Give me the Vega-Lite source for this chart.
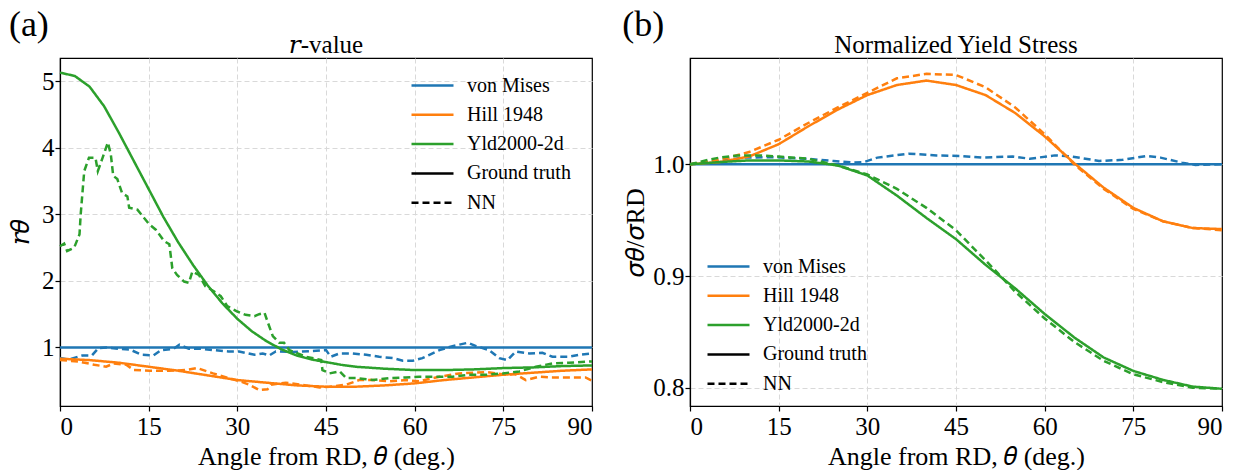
{
  "$schema": "https://vega.github.io/schema/vega-lite/v6.json",
  "background": "white",
  "padding": {"left": 6, "top": 7, "right": 0, "bottom": 0},
  "config": {
    "font": "Liberation Serif, DejaVu Serif",
    "view": {"stroke": "black", "strokeWidth": 1.2},
    "axis": {
      "labelFont": "Liberation Serif, DejaVu Serif",
      "labelFontSize": 25,
      "labelColor": "black",
      "labelPadding": 3,
      "titleFont": "Liberation Serif, DejaVu Serif",
      "titleFontSize": 26,
      "titleFontWeight": "normal",
      "titleColor": "black",
      "domainColor": "black",
      "domainWidth": 1.2,
      "tickColor": "black",
      "tickSize": 5,
      "tickWidth": 1.2,
      "gridColor": "#d9d9d9",
      "gridDash": [5, 3],
      "gridWidth": 1
    },
    "axisX": {"titlePadding": 4},
    "axisY": {"titlePadding": 8, "labelPadding": 1},
    "title": {"font": "Liberation Serif, DejaVu Serif", "fontWeight": "normal", "color": "black"},
    "legend": {
      "title": null,
      "symbolType": "stroke",
      "symbolSize": 1764,
      "symbolStrokeWidth": 2.5,
      "labelFont": "Liberation Serif, DejaVu Serif",
      "labelFontSize": 20,
      "labelColor": "black",
      "labelOffset": 12,
      "clipHeight": 29,
      "rowPadding": 0.3,
      "padding": 0
    }
  },
  "spacing": 24,
  "resolve": {
    "scale": {"color": "independent", "strokeDash": "independent"},
    "legend": {"color": "independent"}
  },
  "hconcat": [
    {
      "title": {"text": "(a)", "anchor": "start", "fontSize": 36, "dx": 2, "offset": -12},
      "vconcat": [
        {
          "title": {"text": "𝑟-value", "fontSize": 25, "offset": 0},
          "view": {"stroke": "black", "strokeWidth": 1.2},
          "width": 532,
          "height": 348,
          "data": {
            "values": [
              {"theta": 0, "value": 1.0, "model": "von Mises", "kind": "Ground truth"},
              {"theta": 90, "value": 1.0, "model": "von Mises", "kind": "Ground truth"},

              {"theta": 0, "value": 0.84, "model": "von Mises", "kind": "NN"},
              {"theta": 1.5, "value": 0.82, "model": "von Mises", "kind": "NN"},
              {"theta": 3.8, "value": 0.88, "model": "von Mises", "kind": "NN"},
              {"theta": 5.4, "value": 0.88, "model": "von Mises", "kind": "NN"},
              {"theta": 6.5, "value": 0.99, "model": "von Mises", "kind": "NN"},
              {"theta": 7.8, "value": 1.0, "model": "von Mises", "kind": "NN"},
              {"theta": 9.8, "value": 0.98, "model": "von Mises", "kind": "NN"},
              {"theta": 11.8, "value": 0.97, "model": "von Mises", "kind": "NN"},
              {"theta": 13.8, "value": 0.89, "model": "von Mises", "kind": "NN"},
              {"theta": 15.8, "value": 0.88, "model": "von Mises", "kind": "NN"},
              {"theta": 17.1, "value": 0.96, "model": "von Mises", "kind": "NN"},
              {"theta": 19.2, "value": 0.98, "model": "von Mises", "kind": "NN"},
              {"theta": 20.2, "value": 1.04, "model": "von Mises", "kind": "NN"},
              {"theta": 21.8, "value": 0.98, "model": "von Mises", "kind": "NN"},
              {"theta": 23.8, "value": 0.98, "model": "von Mises", "kind": "NN"},
              {"theta": 25.9, "value": 0.96, "model": "von Mises", "kind": "NN"},
              {"theta": 28.5, "value": 0.94, "model": "von Mises", "kind": "NN"},
              {"theta": 30.3, "value": 0.94, "model": "von Mises", "kind": "NN"},
              {"theta": 32.9, "value": 0.89, "model": "von Mises", "kind": "NN"},
              {"theta": 34.3, "value": 0.91, "model": "von Mises", "kind": "NN"},
              {"theta": 35.4, "value": 0.88, "model": "von Mises", "kind": "NN"},
              {"theta": 36.5, "value": 0.94, "model": "von Mises", "kind": "NN"},
              {"theta": 39.4, "value": 0.93, "model": "von Mises", "kind": "NN"},
              {"theta": 43.3, "value": 0.95, "model": "von Mises", "kind": "NN"},
              {"theta": 45.0, "value": 0.96, "model": "von Mises", "kind": "NN"},
              {"theta": 45.8, "value": 0.86, "model": "von Mises", "kind": "NN"},
              {"theta": 47.3, "value": 0.91, "model": "von Mises", "kind": "NN"},
              {"theta": 49.5, "value": 0.91, "model": "von Mises", "kind": "NN"},
              {"theta": 51.8, "value": 0.89, "model": "von Mises", "kind": "NN"},
              {"theta": 54.0, "value": 0.86, "model": "von Mises", "kind": "NN"},
              {"theta": 56.3, "value": 0.84, "model": "von Mises", "kind": "NN"},
              {"theta": 58.0, "value": 0.8, "model": "von Mises", "kind": "NN"},
              {"theta": 59.7, "value": 0.8, "model": "von Mises", "kind": "NN"},
              {"theta": 61.3, "value": 0.84, "model": "von Mises", "kind": "NN"},
              {"theta": 62.5, "value": 0.89, "model": "von Mises", "kind": "NN"},
              {"theta": 64.2, "value": 0.96, "model": "von Mises", "kind": "NN"},
              {"theta": 66.4, "value": 1.02, "model": "von Mises", "kind": "NN"},
              {"theta": 69.0, "value": 1.07, "model": "von Mises", "kind": "NN"},
              {"theta": 70.4, "value": 1.02, "model": "von Mises", "kind": "NN"},
              {"theta": 72.6, "value": 0.96, "model": "von Mises", "kind": "NN"},
              {"theta": 74.3, "value": 0.84, "model": "von Mises", "kind": "NN"},
              {"theta": 75.7, "value": 0.81, "model": "von Mises", "kind": "NN"},
              {"theta": 77.1, "value": 0.94, "model": "von Mises", "kind": "NN"},
              {"theta": 79.4, "value": 0.91, "model": "von Mises", "kind": "NN"},
              {"theta": 81.6, "value": 0.92, "model": "von Mises", "kind": "NN"},
              {"theta": 83.3, "value": 0.86, "model": "von Mises", "kind": "NN"},
              {"theta": 86.1, "value": 0.86, "model": "von Mises", "kind": "NN"},
              {"theta": 87.8, "value": 0.89, "model": "von Mises", "kind": "NN"},
              {"theta": 90, "value": 0.91, "model": "von Mises", "kind": "NN"},

              {"theta": 0, "value": 0.83, "model": "Hill 1948", "kind": "Ground truth"},
              {"theta": 5, "value": 0.81, "model": "Hill 1948", "kind": "Ground truth"},
              {"theta": 10, "value": 0.77, "model": "Hill 1948", "kind": "Ground truth"},
              {"theta": 15, "value": 0.71, "model": "Hill 1948", "kind": "Ground truth"},
              {"theta": 20, "value": 0.65, "model": "Hill 1948", "kind": "Ground truth"},
              {"theta": 25, "value": 0.58, "model": "Hill 1948", "kind": "Ground truth"},
              {"theta": 30, "value": 0.51, "model": "Hill 1948", "kind": "Ground truth"},
              {"theta": 35, "value": 0.47, "model": "Hill 1948", "kind": "Ground truth"},
              {"theta": 40, "value": 0.43, "model": "Hill 1948", "kind": "Ground truth"},
              {"theta": 45, "value": 0.41, "model": "Hill 1948", "kind": "Ground truth"},
              {"theta": 50, "value": 0.41, "model": "Hill 1948", "kind": "Ground truth"},
              {"theta": 55, "value": 0.43, "model": "Hill 1948", "kind": "Ground truth"},
              {"theta": 60, "value": 0.46, "model": "Hill 1948", "kind": "Ground truth"},
              {"theta": 65, "value": 0.51, "model": "Hill 1948", "kind": "Ground truth"},
              {"theta": 70, "value": 0.55, "model": "Hill 1948", "kind": "Ground truth"},
              {"theta": 75, "value": 0.59, "model": "Hill 1948", "kind": "Ground truth"},
              {"theta": 80, "value": 0.62, "model": "Hill 1948", "kind": "Ground truth"},
              {"theta": 85, "value": 0.65, "model": "Hill 1948", "kind": "Ground truth"},
              {"theta": 90, "value": 0.67, "model": "Hill 1948", "kind": "Ground truth"},

              {"theta": 0, "value": 0.81, "model": "Hill 1948", "kind": "NN"},
              {"theta": 3.1, "value": 0.79, "model": "Hill 1948", "kind": "NN"},
              {"theta": 5.8, "value": 0.74, "model": "Hill 1948", "kind": "NN"},
              {"theta": 7.8, "value": 0.71, "model": "Hill 1948", "kind": "NN"},
              {"theta": 9.1, "value": 0.76, "model": "Hill 1948", "kind": "NN"},
              {"theta": 11.2, "value": 0.74, "model": "Hill 1948", "kind": "NN"},
              {"theta": 12.5, "value": 0.66, "model": "Hill 1948", "kind": "NN"},
              {"theta": 15.2, "value": 0.65, "model": "Hill 1948", "kind": "NN"},
              {"theta": 18.5, "value": 0.65, "model": "Hill 1948", "kind": "NN"},
              {"theta": 21.2, "value": 0.66, "model": "Hill 1948", "kind": "NN"},
              {"theta": 23.2, "value": 0.69, "model": "Hill 1948", "kind": "NN"},
              {"theta": 25.9, "value": 0.61, "model": "Hill 1948", "kind": "NN"},
              {"theta": 28.5, "value": 0.54, "model": "Hill 1948", "kind": "NN"},
              {"theta": 30.5, "value": 0.49, "model": "Hill 1948", "kind": "NN"},
              {"theta": 32.0, "value": 0.44, "model": "Hill 1948", "kind": "NN"},
              {"theta": 33.7, "value": 0.36, "model": "Hill 1948", "kind": "NN"},
              {"theta": 35.1, "value": 0.37, "model": "Hill 1948", "kind": "NN"},
              {"theta": 35.7, "value": 0.44, "model": "Hill 1948", "kind": "NN"},
              {"theta": 38.2, "value": 0.47, "model": "Hill 1948", "kind": "NN"},
              {"theta": 41.6, "value": 0.43, "model": "Hill 1948", "kind": "NN"},
              {"theta": 43.9, "value": 0.4, "model": "Hill 1948", "kind": "NN"},
              {"theta": 45.6, "value": 0.41, "model": "Hill 1948", "kind": "NN"},
              {"theta": 48.4, "value": 0.44, "model": "Hill 1948", "kind": "NN"},
              {"theta": 50.6, "value": 0.51, "model": "Hill 1948", "kind": "NN"},
              {"theta": 52.9, "value": 0.51, "model": "Hill 1948", "kind": "NN"},
              {"theta": 55.7, "value": 0.49, "model": "Hill 1948", "kind": "NN"},
              {"theta": 58.5, "value": 0.51, "model": "Hill 1948", "kind": "NN"},
              {"theta": 60.8, "value": 0.49, "model": "Hill 1948", "kind": "NN"},
              {"theta": 62.5, "value": 0.53, "model": "Hill 1948", "kind": "NN"},
              {"theta": 64.2, "value": 0.56, "model": "Hill 1948", "kind": "NN"},
              {"theta": 67.5, "value": 0.61, "model": "Hill 1948", "kind": "NN"},
              {"theta": 72.1, "value": 0.63, "model": "Hill 1948", "kind": "NN"},
              {"theta": 75.4, "value": 0.59, "model": "Hill 1948", "kind": "NN"},
              {"theta": 77.0, "value": 0.6, "model": "Hill 1948", "kind": "NN"},
              {"theta": 78.8, "value": 0.51, "model": "Hill 1948", "kind": "NN"},
              {"theta": 81.0, "value": 0.56, "model": "Hill 1948", "kind": "NN"},
              {"theta": 83.3, "value": 0.55, "model": "Hill 1948", "kind": "NN"},
              {"theta": 86.1, "value": 0.55, "model": "Hill 1948", "kind": "NN"},
              {"theta": 88.9, "value": 0.55, "model": "Hill 1948", "kind": "NN"},
              {"theta": 90, "value": 0.5, "model": "Hill 1948", "kind": "NN"},

              {"theta": 0, "value": 5.13, "model": "Yld2000-2d", "kind": "Ground truth"},
              {"theta": 2.5, "value": 5.08, "model": "Yld2000-2d", "kind": "Ground truth"},
              {"theta": 5, "value": 4.92, "model": "Yld2000-2d", "kind": "Ground truth"},
              {"theta": 7.5, "value": 4.62, "model": "Yld2000-2d", "kind": "Ground truth"},
              {"theta": 10, "value": 4.22, "model": "Yld2000-2d", "kind": "Ground truth"},
              {"theta": 12.5, "value": 3.8, "model": "Yld2000-2d", "kind": "Ground truth"},
              {"theta": 15, "value": 3.38, "model": "Yld2000-2d", "kind": "Ground truth"},
              {"theta": 17.5, "value": 2.96, "model": "Yld2000-2d", "kind": "Ground truth"},
              {"theta": 20, "value": 2.58, "model": "Yld2000-2d", "kind": "Ground truth"},
              {"theta": 22.5, "value": 2.24, "model": "Yld2000-2d", "kind": "Ground truth"},
              {"theta": 25, "value": 1.93, "model": "Yld2000-2d", "kind": "Ground truth"},
              {"theta": 27.5, "value": 1.66, "model": "Yld2000-2d", "kind": "Ground truth"},
              {"theta": 30, "value": 1.43, "model": "Yld2000-2d", "kind": "Ground truth"},
              {"theta": 32.5, "value": 1.24, "model": "Yld2000-2d", "kind": "Ground truth"},
              {"theta": 35, "value": 1.09, "model": "Yld2000-2d", "kind": "Ground truth"},
              {"theta": 37.5, "value": 0.97, "model": "Yld2000-2d", "kind": "Ground truth"},
              {"theta": 40, "value": 0.88, "model": "Yld2000-2d", "kind": "Ground truth"},
              {"theta": 42.5, "value": 0.82, "model": "Yld2000-2d", "kind": "Ground truth"},
              {"theta": 45, "value": 0.78, "model": "Yld2000-2d", "kind": "Ground truth"},
              {"theta": 47.5, "value": 0.74, "model": "Yld2000-2d", "kind": "Ground truth"},
              {"theta": 50, "value": 0.71, "model": "Yld2000-2d", "kind": "Ground truth"},
              {"theta": 55, "value": 0.68, "model": "Yld2000-2d", "kind": "Ground truth"},
              {"theta": 60, "value": 0.66, "model": "Yld2000-2d", "kind": "Ground truth"},
              {"theta": 65, "value": 0.66, "model": "Yld2000-2d", "kind": "Ground truth"},
              {"theta": 70, "value": 0.67, "model": "Yld2000-2d", "kind": "Ground truth"},
              {"theta": 75, "value": 0.69, "model": "Yld2000-2d", "kind": "Ground truth"},
              {"theta": 80, "value": 0.7, "model": "Yld2000-2d", "kind": "Ground truth"},
              {"theta": 85, "value": 0.72, "model": "Yld2000-2d", "kind": "Ground truth"},
              {"theta": 90, "value": 0.73, "model": "Yld2000-2d", "kind": "Ground truth"},

              {"theta": 0, "value": 2.52, "model": "Yld2000-2d", "kind": "NN"},
              {"theta": 0.7, "value": 2.56, "model": "Yld2000-2d", "kind": "NN"},
              {"theta": 1.2, "value": 2.45, "model": "Yld2000-2d", "kind": "NN"},
              {"theta": 2.4, "value": 2.5, "model": "Yld2000-2d", "kind": "NN"},
              {"theta": 3.3, "value": 2.7, "model": "Yld2000-2d", "kind": "NN"},
              {"theta": 3.5, "value": 3.0, "model": "Yld2000-2d", "kind": "NN"},
              {"theta": 4.1, "value": 3.65, "model": "Yld2000-2d", "kind": "NN"},
              {"theta": 4.9, "value": 3.85, "model": "Yld2000-2d", "kind": "NN"},
              {"theta": 6.0, "value": 3.85, "model": "Yld2000-2d", "kind": "NN"},
              {"theta": 6.4, "value": 3.65, "model": "Yld2000-2d", "kind": "NN"},
              {"theta": 7.2, "value": 3.85, "model": "Yld2000-2d", "kind": "NN"},
              {"theta": 8.1, "value": 4.08, "model": "Yld2000-2d", "kind": "NN"},
              {"theta": 8.6, "value": 3.9, "model": "Yld2000-2d", "kind": "NN"},
              {"theta": 9.0, "value": 3.58, "model": "Yld2000-2d", "kind": "NN"},
              {"theta": 9.7, "value": 3.53, "model": "Yld2000-2d", "kind": "NN"},
              {"theta": 10.5, "value": 3.32, "model": "Yld2000-2d", "kind": "NN"},
              {"theta": 11.4, "value": 3.27, "model": "Yld2000-2d", "kind": "NN"},
              {"theta": 11.7, "value": 3.1, "model": "Yld2000-2d", "kind": "NN"},
              {"theta": 13.1, "value": 3.07, "model": "Yld2000-2d", "kind": "NN"},
              {"theta": 14.2, "value": 2.95, "model": "Yld2000-2d", "kind": "NN"},
              {"theta": 15.1, "value": 2.85, "model": "Yld2000-2d", "kind": "NN"},
              {"theta": 16.2, "value": 2.77, "model": "Yld2000-2d", "kind": "NN"},
              {"theta": 17.6, "value": 2.6, "model": "Yld2000-2d", "kind": "NN"},
              {"theta": 18.5, "value": 2.55, "model": "Yld2000-2d", "kind": "NN"},
              {"theta": 19.0, "value": 2.19, "model": "Yld2000-2d", "kind": "NN"},
              {"theta": 19.8, "value": 2.09, "model": "Yld2000-2d", "kind": "NN"},
              {"theta": 21.0, "value": 1.99, "model": "Yld2000-2d", "kind": "NN"},
              {"theta": 21.8, "value": 1.97, "model": "Yld2000-2d", "kind": "NN"},
              {"theta": 22.4, "value": 2.14, "model": "Yld2000-2d", "kind": "NN"},
              {"theta": 23.5, "value": 2.09, "model": "Yld2000-2d", "kind": "NN"},
              {"theta": 24.6, "value": 1.92, "model": "Yld2000-2d", "kind": "NN"},
              {"theta": 26.1, "value": 1.84, "model": "Yld2000-2d", "kind": "NN"},
              {"theta": 27.2, "value": 1.77, "model": "Yld2000-2d", "kind": "NN"},
              {"theta": 28.3, "value": 1.62, "model": "Yld2000-2d", "kind": "NN"},
              {"theta": 30.0, "value": 1.54, "model": "Yld2000-2d", "kind": "NN"},
              {"theta": 31.4, "value": 1.49, "model": "Yld2000-2d", "kind": "NN"},
              {"theta": 32.9, "value": 1.47, "model": "Yld2000-2d", "kind": "NN"},
              {"theta": 33.7, "value": 1.5, "model": "Yld2000-2d", "kind": "NN"},
              {"theta": 34.6, "value": 1.52, "model": "Yld2000-2d", "kind": "NN"},
              {"theta": 35.1, "value": 1.39, "model": "Yld2000-2d", "kind": "NN"},
              {"theta": 36.0, "value": 1.17, "model": "Yld2000-2d", "kind": "NN"},
              {"theta": 37.1, "value": 1.07, "model": "Yld2000-2d", "kind": "NN"},
              {"theta": 37.9, "value": 1.07, "model": "Yld2000-2d", "kind": "NN"},
              {"theta": 38.8, "value": 0.96, "model": "Yld2000-2d", "kind": "NN"},
              {"theta": 40.2, "value": 0.91, "model": "Yld2000-2d", "kind": "NN"},
              {"theta": 41.6, "value": 0.86, "model": "Yld2000-2d", "kind": "NN"},
              {"theta": 43.3, "value": 0.83, "model": "Yld2000-2d", "kind": "NN"},
              {"theta": 44.2, "value": 0.81, "model": "Yld2000-2d", "kind": "NN"},
              {"theta": 44.4, "value": 0.66, "model": "Yld2000-2d", "kind": "NN"},
              {"theta": 45.6, "value": 0.61, "model": "Yld2000-2d", "kind": "NN"},
              {"theta": 47.3, "value": 0.64, "model": "Yld2000-2d", "kind": "NN"},
              {"theta": 48.4, "value": 0.54, "model": "Yld2000-2d", "kind": "NN"},
              {"theta": 50.1, "value": 0.54, "model": "Yld2000-2d", "kind": "NN"},
              {"theta": 52.9, "value": 0.51, "model": "Yld2000-2d", "kind": "NN"},
              {"theta": 55.7, "value": 0.54, "model": "Yld2000-2d", "kind": "NN"},
              {"theta": 58.5, "value": 0.55, "model": "Yld2000-2d", "kind": "NN"},
              {"theta": 60.8, "value": 0.56, "model": "Yld2000-2d", "kind": "NN"},
              {"theta": 66.4, "value": 0.56, "model": "Yld2000-2d", "kind": "NN"},
              {"theta": 69.2, "value": 0.59, "model": "Yld2000-2d", "kind": "NN"},
              {"theta": 72.1, "value": 0.59, "model": "Yld2000-2d", "kind": "NN"},
              {"theta": 74.9, "value": 0.61, "model": "Yld2000-2d", "kind": "NN"},
              {"theta": 77.7, "value": 0.64, "model": "Yld2000-2d", "kind": "NN"},
              {"theta": 80.5, "value": 0.71, "model": "Yld2000-2d", "kind": "NN"},
              {"theta": 83.3, "value": 0.76, "model": "Yld2000-2d", "kind": "NN"},
              {"theta": 86.1, "value": 0.77, "model": "Yld2000-2d", "kind": "NN"},
              {"theta": 90, "value": 0.79, "model": "Yld2000-2d", "kind": "NN"}
            ]
          },
          "mark": {"type": "line", "strokeWidth": 2.5},
          "encoding": {
            "x": {
              "field": "theta", "type": "quantitative",
              "scale": {"domain": [0, 90], "nice": false},
              "axis": {
                "values": [0, 15, 30, 45, 60, 75, 90],
                "title": "Angle from RD, 𝜃 (deg.)",
                "gridOpacity": {"condition": {"test": "datum.value === 0 || datum.value === 90", "value": 0}, "value": 1}
              }
            },
            "y": {
              "field": "value", "type": "quantitative",
              "scale": {"domain": [0.12, 5.35], "nice": false, "zero": false},
              "axis": {"values": [1, 2, 3, 4, 5], "title": "𝑟𝜃"}
            },
            "color": {
              "field": "model", "type": "nominal",
              "scale": {
                "domain": ["von Mises", "Hill 1948", "Yld2000-2d", "Ground truth", "NN"],
                "range": ["#1f77b4", "#ff7f0e", "#2ca02c", "black", "black"]
              },
              "legend": {
                "orient": "none", "legendX": 350, "legendY": 13,
                "encode": {"symbols": {"update": {"strokeDash": {"signal": "datum.value === 'NN' ? [7, 4] : [1, 0]"}}}}
              }
            },
            "strokeDash": {
              "field": "kind", "type": "nominal",
              "scale": {"domain": ["Ground truth", "NN"], "range": [[1, 0], [7, 4]]},
              "legend": null
            }
          }
        }
      ]
    },
    {
      "title": {"text": "(b)", "anchor": "start", "fontSize": 36, "dx": 0, "offset": -12},
      "vconcat": [
        {
          "title": {"text": "Normalized Yield Stress", "fontSize": 25, "offset": 0},
          "view": {"stroke": "black", "strokeWidth": 1.2},
          "width": 532,
          "height": 348,
          "data": {
            "values": [
              {"theta": 0, "value": 1.0, "model": "von Mises", "kind": "Ground truth"},
              {"theta": 90, "value": 1.0, "model": "von Mises", "kind": "Ground truth"},

              {"theta": 0, "value": 1.0, "model": "von Mises", "kind": "NN"},
              {"theta": 5, "value": 1.003, "model": "von Mises", "kind": "NN"},
              {"theta": 9.1, "value": 1.006, "model": "von Mises", "kind": "NN"},
              {"theta": 13.8, "value": 1.0065, "model": "von Mises", "kind": "NN"},
              {"theta": 19.6, "value": 1.005, "model": "von Mises", "kind": "NN"},
              {"theta": 24.3, "value": 1.003, "model": "von Mises", "kind": "NN"},
              {"theta": 27.7, "value": 1.0015, "model": "von Mises", "kind": "NN"},
              {"theta": 29.4, "value": 1.002, "model": "von Mises", "kind": "NN"},
              {"theta": 31.7, "value": 1.006, "model": "von Mises", "kind": "NN"},
              {"theta": 37.0, "value": 1.0095, "model": "von Mises", "kind": "NN"},
              {"theta": 41.7, "value": 1.008, "model": "von Mises", "kind": "NN"},
              {"theta": 45.8, "value": 1.0075, "model": "von Mises", "kind": "NN"},
              {"theta": 49.3, "value": 1.006, "model": "von Mises", "kind": "NN"},
              {"theta": 54.6, "value": 1.007, "model": "von Mises", "kind": "NN"},
              {"theta": 57.5, "value": 1.005, "model": "von Mises", "kind": "NN"},
              {"theta": 61.7, "value": 1.008, "model": "von Mises", "kind": "NN"},
              {"theta": 64.6, "value": 1.007, "model": "von Mises", "kind": "NN"},
              {"theta": 69.2, "value": 1.003, "model": "von Mises", "kind": "NN"},
              {"theta": 73.2, "value": 1.004, "model": "von Mises", "kind": "NN"},
              {"theta": 77.3, "value": 1.0075, "model": "von Mises", "kind": "NN"},
              {"theta": 79.6, "value": 1.006, "model": "von Mises", "kind": "NN"},
              {"theta": 83.2, "value": 1.0015, "model": "von Mises", "kind": "NN"},
              {"theta": 85.5, "value": 0.9995, "model": "von Mises", "kind": "NN"},
              {"theta": 90, "value": 1.0, "model": "von Mises", "kind": "NN"},

              {"theta": 0, "value": 1.0, "model": "Hill 1948", "kind": "Ground truth"},
              {"theta": 5, "value": 1.002, "model": "Hill 1948", "kind": "Ground truth"},
              {"theta": 10, "value": 1.007, "model": "Hill 1948", "kind": "Ground truth"},
              {"theta": 15, "value": 1.018, "model": "Hill 1948", "kind": "Ground truth"},
              {"theta": 20, "value": 1.034, "model": "Hill 1948", "kind": "Ground truth"},
              {"theta": 25, "value": 1.049, "model": "Hill 1948", "kind": "Ground truth"},
              {"theta": 30, "value": 1.062, "model": "Hill 1948", "kind": "Ground truth"},
              {"theta": 35, "value": 1.071, "model": "Hill 1948", "kind": "Ground truth"},
              {"theta": 40, "value": 1.075, "model": "Hill 1948", "kind": "Ground truth"},
              {"theta": 45, "value": 1.071, "model": "Hill 1948", "kind": "Ground truth"},
              {"theta": 50, "value": 1.062, "model": "Hill 1948", "kind": "Ground truth"},
              {"theta": 55, "value": 1.046, "model": "Hill 1948", "kind": "Ground truth"},
              {"theta": 60, "value": 1.025, "model": "Hill 1948", "kind": "Ground truth"},
              {"theta": 65, "value": 1.001, "model": "Hill 1948", "kind": "Ground truth"},
              {"theta": 70, "value": 0.979, "model": "Hill 1948", "kind": "Ground truth"},
              {"theta": 75, "value": 0.961, "model": "Hill 1948", "kind": "Ground truth"},
              {"theta": 80, "value": 0.949, "model": "Hill 1948", "kind": "Ground truth"},
              {"theta": 85, "value": 0.943, "model": "Hill 1948", "kind": "Ground truth"},
              {"theta": 90, "value": 0.942, "model": "Hill 1948", "kind": "Ground truth"},

              {"theta": 0, "value": 1.0, "model": "Hill 1948", "kind": "NN"},
              {"theta": 5, "value": 1.004, "model": "Hill 1948", "kind": "NN"},
              {"theta": 10, "value": 1.011, "model": "Hill 1948", "kind": "NN"},
              {"theta": 15, "value": 1.022, "model": "Hill 1948", "kind": "NN"},
              {"theta": 20, "value": 1.037, "model": "Hill 1948", "kind": "NN"},
              {"theta": 25, "value": 1.051, "model": "Hill 1948", "kind": "NN"},
              {"theta": 30, "value": 1.064, "model": "Hill 1948", "kind": "NN"},
              {"theta": 35, "value": 1.077, "model": "Hill 1948", "kind": "NN"},
              {"theta": 40, "value": 1.081, "model": "Hill 1948", "kind": "NN"},
              {"theta": 45, "value": 1.08, "model": "Hill 1948", "kind": "NN"},
              {"theta": 50, "value": 1.069, "model": "Hill 1948", "kind": "NN"},
              {"theta": 55, "value": 1.051, "model": "Hill 1948", "kind": "NN"},
              {"theta": 60, "value": 1.027, "model": "Hill 1948", "kind": "NN"},
              {"theta": 65, "value": 1.0, "model": "Hill 1948", "kind": "NN"},
              {"theta": 70, "value": 0.978, "model": "Hill 1948", "kind": "NN"},
              {"theta": 75, "value": 0.96, "model": "Hill 1948", "kind": "NN"},
              {"theta": 80, "value": 0.949, "model": "Hill 1948", "kind": "NN"},
              {"theta": 85, "value": 0.943, "model": "Hill 1948", "kind": "NN"},
              {"theta": 90, "value": 0.941, "model": "Hill 1948", "kind": "NN"},

              {"theta": 0, "value": 1.0, "model": "Yld2000-2d", "kind": "Ground truth"},
              {"theta": 5, "value": 1.002, "model": "Yld2000-2d", "kind": "Ground truth"},
              {"theta": 10, "value": 1.0035, "model": "Yld2000-2d", "kind": "Ground truth"},
              {"theta": 15, "value": 1.0035, "model": "Yld2000-2d", "kind": "Ground truth"},
              {"theta": 20, "value": 1.0025, "model": "Yld2000-2d", "kind": "Ground truth"},
              {"theta": 25, "value": 0.999, "model": "Yld2000-2d", "kind": "Ground truth"},
              {"theta": 30, "value": 0.99, "model": "Yld2000-2d", "kind": "Ground truth"},
              {"theta": 35, "value": 0.972, "model": "Yld2000-2d", "kind": "Ground truth"},
              {"theta": 40, "value": 0.952, "model": "Yld2000-2d", "kind": "Ground truth"},
              {"theta": 45, "value": 0.933, "model": "Yld2000-2d", "kind": "Ground truth"},
              {"theta": 50, "value": 0.91, "model": "Yld2000-2d", "kind": "Ground truth"},
              {"theta": 55, "value": 0.889, "model": "Yld2000-2d", "kind": "Ground truth"},
              {"theta": 60, "value": 0.866, "model": "Yld2000-2d", "kind": "Ground truth"},
              {"theta": 65, "value": 0.845, "model": "Yld2000-2d", "kind": "Ground truth"},
              {"theta": 70, "value": 0.827, "model": "Yld2000-2d", "kind": "Ground truth"},
              {"theta": 75, "value": 0.815, "model": "Yld2000-2d", "kind": "Ground truth"},
              {"theta": 80, "value": 0.807, "model": "Yld2000-2d", "kind": "Ground truth"},
              {"theta": 85, "value": 0.801, "model": "Yld2000-2d", "kind": "Ground truth"},
              {"theta": 90, "value": 0.799, "model": "Yld2000-2d", "kind": "Ground truth"},

              {"theta": 0, "value": 1.0, "model": "Yld2000-2d", "kind": "NN"},
              {"theta": 3, "value": 1.004, "model": "Yld2000-2d", "kind": "NN"},
              {"theta": 5, "value": 1.006, "model": "Yld2000-2d", "kind": "NN"},
              {"theta": 8, "value": 1.008, "model": "Yld2000-2d", "kind": "NN"},
              {"theta": 12, "value": 1.008, "model": "Yld2000-2d", "kind": "NN"},
              {"theta": 15, "value": 1.007, "model": "Yld2000-2d", "kind": "NN"},
              {"theta": 20, "value": 1.005, "model": "Yld2000-2d", "kind": "NN"},
              {"theta": 25, "value": 0.999, "model": "Yld2000-2d", "kind": "NN"},
              {"theta": 30, "value": 0.991, "model": "Yld2000-2d", "kind": "NN"},
              {"theta": 35, "value": 0.978, "model": "Yld2000-2d", "kind": "NN"},
              {"theta": 40, "value": 0.961, "model": "Yld2000-2d", "kind": "NN"},
              {"theta": 45, "value": 0.941, "model": "Yld2000-2d", "kind": "NN"},
              {"theta": 50, "value": 0.914, "model": "Yld2000-2d", "kind": "NN"},
              {"theta": 52, "value": 0.903, "model": "Yld2000-2d", "kind": "NN"},
              {"theta": 55, "value": 0.886, "model": "Yld2000-2d", "kind": "NN"},
              {"theta": 60, "value": 0.862, "model": "Yld2000-2d", "kind": "NN"},
              {"theta": 65, "value": 0.841, "model": "Yld2000-2d", "kind": "NN"},
              {"theta": 70, "value": 0.824, "model": "Yld2000-2d", "kind": "NN"},
              {"theta": 75, "value": 0.812, "model": "Yld2000-2d", "kind": "NN"},
              {"theta": 80, "value": 0.805, "model": "Yld2000-2d", "kind": "NN"},
              {"theta": 85, "value": 0.8, "model": "Yld2000-2d", "kind": "NN"},
              {"theta": 90, "value": 0.799, "model": "Yld2000-2d", "kind": "NN"}
            ]
          },
          "mark": {"type": "line", "strokeWidth": 2.5},
          "encoding": {
            "x": {
              "field": "theta", "type": "quantitative",
              "scale": {"domain": [0, 90], "nice": false},
              "axis": {
                "values": [0, 15, 30, 45, 60, 75, 90],
                "title": "Angle from RD, 𝜃 (deg.)",
                "gridOpacity": {"condition": {"test": "datum.value === 0 || datum.value === 90", "value": 0}, "value": 1}
              }
            },
            "y": {
              "field": "value", "type": "quantitative",
              "scale": {"domain": [0.7836, 1.0952], "nice": false, "zero": false},
              "axis": {"values": [0.8, 0.9, 1.0], "format": ".1f", "title": "𝜎𝜃/𝜎RD", "titlePadding": 4}
            },
            "color": {
              "field": "model", "type": "nominal",
              "scale": {
                "domain": ["von Mises", "Hill 1948", "Yld2000-2d", "Ground truth", "NN"],
                "range": ["#1f77b4", "#ff7f0e", "#2ca02c", "black", "black"]
              },
              "legend": {
                "orient": "none", "legendX": 16, "legendY": 194,
                "encode": {"symbols": {"update": {"strokeDash": {"signal": "datum.value === 'NN' ? [7, 4] : [1, 0]"}}}}
              }
            },
            "strokeDash": {
              "field": "kind", "type": "nominal",
              "scale": {"domain": ["Ground truth", "NN"], "range": [[1, 0], [7, 4]]},
              "legend": null
            }
          }
        }
      ]
    }
  ]
}
